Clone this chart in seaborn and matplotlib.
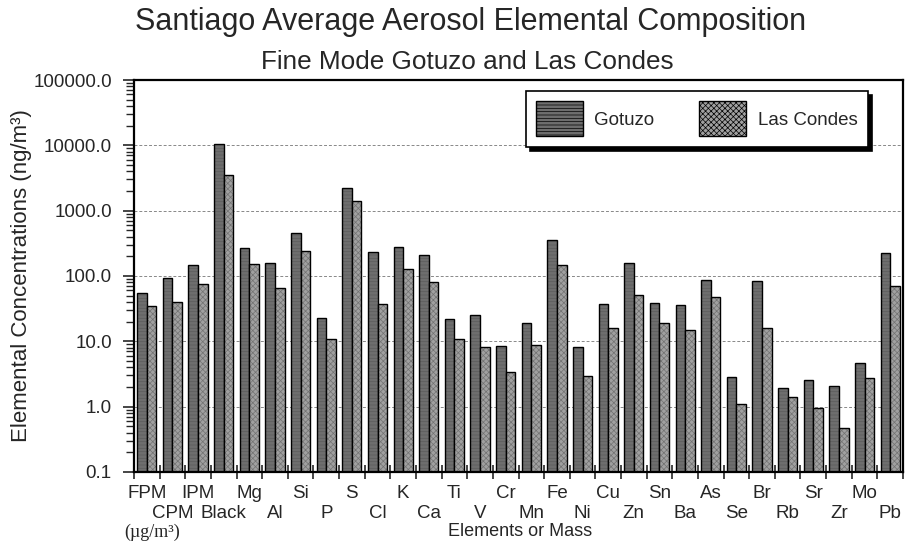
import numpy as np
import pandas as pd
import seaborn as sns
import matplotlib.pyplot as plt
from matplotlib.colors import to_rgba
from matplotlib.patches import Patch
from matplotlib.ticker import FixedLocator, LogLocator, NullFormatter, FormatStrFormatter

# element / mass labels along the x axis
elements = ['FPM', 'CPM', 'IPM', 'Black', 'Mg', 'Al', 'Si', 'P', 'S', 'Cl',
            'K', 'Ca', 'Ti', 'V', 'Cr', 'Mn', 'Fe', 'Ni', 'Cu', 'Zn',
            'Sn', 'Ba', 'As', 'Se', 'Br', 'Rb', 'Sr', 'Zr', 'Mo', 'Pb']

# concentrations (ng/m3, masses in ug/m3)
gotuzo = [54, 93, 145, 10500, 270, 160, 450, 23, 2200, 230,
          280, 210, 22, 25, 8.5, 19, 350, 8.3, 37, 160,
          38, 36, 88, 2.8, 85, 1.9, 2.6, 2.1, 4.6, 225]
las_condes = [35, 40, 75, 3500, 150, 65, 240, 11, 1400, 37,
              130, 82, 11, 8.2, 3.4, 8.7, 145, 2.9, 16, 52,
              19, 15, 47, 1.1, 16, 1.4, 0.95, 0.47, 2.7, 70]

sites = ['Gotuzo', 'Las Condes']
colors = {'Gotuzo': '#6e6e6e', 'Las Condes': '#a0a0a0'}
hatches = {'Gotuzo': '-----', 'Las Condes': 'xxxxxx'}
hatch_cols = {'Gotuzo': '#5c5c5c', 'Las Condes': '#727272'}

df = pd.DataFrame({
    'element': elements * 2,
    'value': gotuzo + las_condes,
    'site': ['Gotuzo'] * len(elements) + ['Las Condes'] * len(elements),
})

sns.set_style('white')
plt.rcParams['font.family'] = ['Liberation Sans', 'DejaVu Sans']
plt.rcParams['hatch.linewidth'] = 0.5

fig = plt.figure(figsize=(9.05, 5.44), dpi=100)
ax = fig.add_axes([134 / 905, 1 - 472 / 544, 769 / 905, 392 / 544])

sns.barplot(data=df, x='element', y='value', hue='site', order=elements,
            hue_order=sites, palette=colors, width=0.75, errorbar=None,
            legend=False, ax=ax, zorder=2)

# style the bars: black outline, site hatch
for cont, s in zip(ax.containers, sites):
    for p in cont:
        p.set_edgecolor('black')
        p.set_linewidth(1.0)
        p.set_hatch(hatches[s])
        if hasattr(p, 'set_hatchcolor'):
            p.set_hatchcolor(hatch_cols[s])
        else:
            p._hatch_color = to_rgba(hatch_cols[s])

ax.set_yscale('log')
ax.set_ylim(0.1, 100000)
ax.set_xlim(-0.5, len(elements) - 0.5)

ax.yaxis.set_major_locator(LogLocator(base=10, numticks=10))
ax.yaxis.set_minor_locator(LogLocator(base=10, subs=np.arange(2, 10), numticks=10))
ax.yaxis.set_major_formatter(FormatStrFormatter('%.1f'))
ax.yaxis.set_minor_formatter(NullFormatter())
ax.tick_params(axis='y', which='major', direction='out', length=8, width=1.2,
               labelsize=13.5, left=True, pad=8)
ax.tick_params(axis='y', which='minor', direction='out', length=5.5, width=1.0, left=True)

# staggered x labels: even ones on the main axis, odd ones one row lower
idx = np.arange(len(elements))
ax.set_xticks(idx[::2])
ax.set_xticklabels(elements[::2])
ax.xaxis.set_minor_locator(FixedLocator(np.arange(-0.5, len(elements), 1.0)))
ax.tick_params(axis='x', which='major', length=0, labelsize=13.5, pad=9)
ax.tick_params(axis='x', which='minor', direction='inout', length=10, width=1.2, bottom=True)

sec = ax.secondary_xaxis('bottom')
sec.set_xticks(idx[1::2])
sec.set_xticklabels(elements[1::2])
sec.tick_params(axis='x', length=0, labelsize=13.5, pad=24)
sec.spines['bottom'].set_visible(False)

ax.yaxis.grid(True, which='major', color='#888888', linestyle=(0, (3, 2)), linewidth=0.7)
ax.xaxis.grid(False)
ax.set_axisbelow(True)

for sp in ax.spines.values():
    sp.set_visible(True)
    sp.set_color('black')
    sp.set_linewidth(1.6)

ax.set_xlabel('')
ax.set_ylabel('Elemental Concentrations (ng/m³)', fontsize=16)
ax.yaxis.set_label_coords(-0.133, 0.5)

handles = [Patch(facecolor=colors[s], edgecolor='black', hatch=hatches[s], label=s)
           for s in sites]
leg = ax.legend(handles=handles, loc='upper right', bbox_to_anchor=(0.954, 0.972),
                ncol=2, fontsize=13.5, frameon=True, fancybox=False,
                shadow={'color': 'black', 'alpha': 1.0, 'ox': 3, 'oy': -3},
                borderaxespad=0, handlelength=2.5, handleheight=2.5,
                handletextpad=0.6, columnspacing=2.4, borderpad=0.55)
leg.get_frame().set_edgecolor('black')
leg.get_frame().set_linewidth(1.2)
leg.get_frame().set_alpha(1)

fig.text(471 / 905, 1 - 22 / 544, 'Santiago Average Aerosol Elemental Composition',
         ha='center', va='center', fontsize=22)
fig.text(467 / 905, 1 - 62 / 544, 'Fine Mode Gotuzo and Las Condes',
         ha='center', va='center', fontsize=18.8)
fig.text(520 / 905, 1 - 531 / 544, 'Elements or Mass', ha='center', va='center', fontsize=13)
fig.text(152 / 905, 1 - 532 / 544, '(µg/m³)', ha='center', va='center', fontsize=13,
         family=['Liberation Serif', 'DejaVu Serif'])

fig.savefig('out.png', dpi=100)
